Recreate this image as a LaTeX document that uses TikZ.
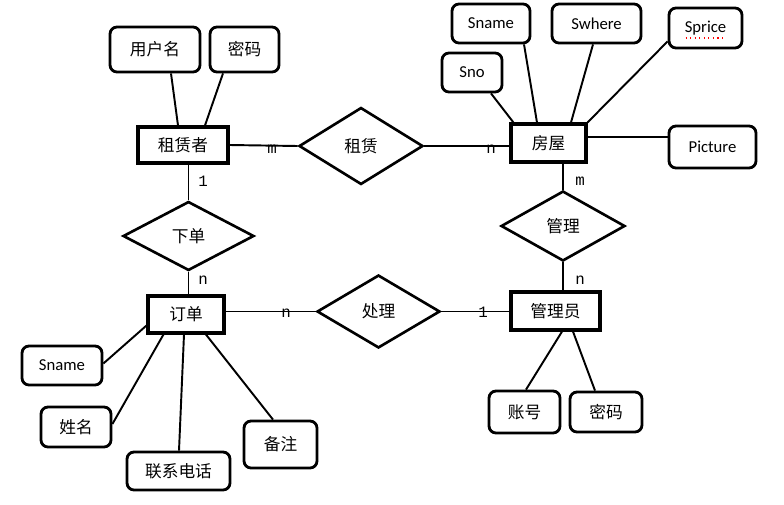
\documentclass[tikz,border=0pt]{standalone}
\usepackage{fontspec}
\setmainfont{Carlito}
\setmonofont{Liberation Mono}
\newfontfamily\cjk{Noto Sans CJK SC}
\usetikzlibrary{shapes.geometric, calc}

\begin{document}
\begin{tikzpicture}[x=0.02cm, y=-0.02cm,
  every node/.style={font=\fontsize{9.5}{11}\selectfont},
  hanzi/.style={font=\cjk\fontsize{9.5}{11}\selectfont},
  entity/.style={draw, line width=1.8pt, inner sep=0pt, hanzi},
  relation/.style={draw, diamond, line width=1.5pt, inner sep=0pt, hanzi},
  attr/.style={draw, rounded corners=4pt, line width=1.6pt, inner sep=0pt},
  card/.style={font=\ttfamily\fontsize{9}{10}\selectfont, inner sep=0pt},
  link/.style={line width=1.1pt}]
\useasboundingbox (0,0) rectangle (784,504);

\node[entity, minimum width=1.8cm, minimum height=0.72cm] (zlz) at (183,145) {租赁者};
\node[entity, minimum width=1.5cm, minimum height=0.76cm] (fw) at (548.5,143) {房屋};
\node[entity, minimum width=1.52cm, minimum height=0.74cm] (dd) at (186,314.5) {订单};
\node[entity, minimum width=1.78cm, minimum height=0.76cm] (gly) at (555.5,311) {管理员};

\node[relation, minimum width=2.48cm, minimum height=1.54cm] (zl) at (361,146) {租赁};
\node[relation, minimum width=2.62cm, minimum height=1.38cm] (xd) at (188.5,236) {下单};
\node[relation, minimum width=2.48cm, minimum height=1.4cm] (gl) at (563,226) {管理};
\node[relation, minimum width=2.46cm, minimum height=1.46cm] (cl) at (378.5,311.5) {处理};

\node[attr, hanzi, minimum width=1.8cm, minimum height=0.9cm] (yhm) at (155,49.5) {用户名};
\node[attr, hanzi, minimum width=1.38cm, minimum height=0.9cm] (mima1) at (244.5,49.5) {密码};
\node[attr, minimum width=1.56cm, minimum height=0.78cm] (sname1) at (491,23.5) {Sname};
\node[attr, minimum width=1.78cm, minimum height=0.78cm] (swhere) at (596.5,23.5) {Swhere};
\node[attr, minimum width=1.46cm, minimum height=0.8cm] (sprice) at (705.5,28) {Sprice};
\node[attr, minimum width=1.2cm, minimum height=0.78cm] (sno) at (472,72.5) {Sno};
\node[attr, minimum width=1.74cm, minimum height=0.84cm] (pic) at (712.5,147) {Picture};
\node[attr, minimum width=1.6cm, minimum height=0.78cm] (sname2) at (62,365.5) {Sname};
\node[attr, hanzi, minimum width=1.4cm, minimum height=0.8cm] (xm) at (76,427) {姓名};
\node[attr, hanzi, minimum width=2.06cm, minimum height=0.76cm] (lxdh) at (178.5,471) {联系电话};
\node[attr, hanzi, minimum width=1.46cm, minimum height=0.94cm] (bz) at (280.5,444.5) {备注};
\node[attr, hanzi, minimum width=1.42cm, minimum height=0.84cm] (zh) at (524.5,412) {账号};
\node[attr, hanzi, minimum width=1.44cm, minimum height=0.8cm] (mima2) at (606,412) {密码};
\draw[red, dotted, line width=0.6pt] ($(sprice.center)+(-20,10)$) -- ++(41,0);

\draw[link] ($(yhm.south)+(16,0)$) -- ($(zlz.north)+(-5,0)$);
\draw[link] ($(mima1.south)+(-21.5,0)$) -- ($(zlz.north)+(22,0)$);
\draw[link] (zlz.east) -- (zl.west);
\draw[link] (zl.east) -- (zl.east -| fw.west);
\draw[link] ($(sno.south)+(19,0)$) -- ($(fw.north west)+(4,0)$);
\draw[link] ($(sname1.south)+(33,0)$) -- ($(fw.north)+(-11.5,0)$);
\draw[link] ($(swhere.south)+(-3.5,0)$) -- ($(fw.north)+(22.5,0)$);
\draw[link] ($(sprice.south west)+(0,-8)$) -- (fw.north east);
\draw[link] ($(pic.west)+(0,-10)$) -- ($(fw.east)+(0,-6)$);
\draw[link] (gl.north |- fw.south) -- (gl.north);
\draw[link] (gl.south) -- (gl.south |- gly.north);
\draw[link] (xd.north |- zlz.south) -- (xd.north);
\draw[link] (xd.south) -- (xd.south |- dd.north);
\draw[link] (cl.west -| dd.east) -- (cl.west);
\draw[link] (cl.east) -- (cl.east -| gly.west);
\draw[link] ($(sname2.east)+(0,-2)$) -- ($(dd.south west)+(0,-9)$);
\draw[link] ($(xm.east)+(0,-3)$) -- ($(dd.south west)+(17,0)$);
\draw[link] ($(lxdh.north)+(0.5,0)$) -- ($(dd.south)+(-2,0)$);
\draw[link] ($(bz.north)+(-7.5,0)$) -- ($(dd.south)+(20,0)$);
\draw[link] ($(zh.north)+(1.5,0)$) -- ($(gly.south)+(6.5,0)$);
\draw[link] ($(mima2.north)+(-11,0)$) -- ($(gly.south)+(17.5,0)$);

\node[card] (c1) at (272,149) {m};
\node[card] (c2) at (491,149) {n};
\node[card] (c3) at (580,181) {m};
\node[card] (c4) at (580,280) {n};
\node[card] (c5) at (203,181) {1};
\node[card] (c6) at (203,280) {n};
\node[card] (c7) at (286,313) {n};
\node[card] (c8) at (483,312) {1};
\end{tikzpicture}
\end{document}
